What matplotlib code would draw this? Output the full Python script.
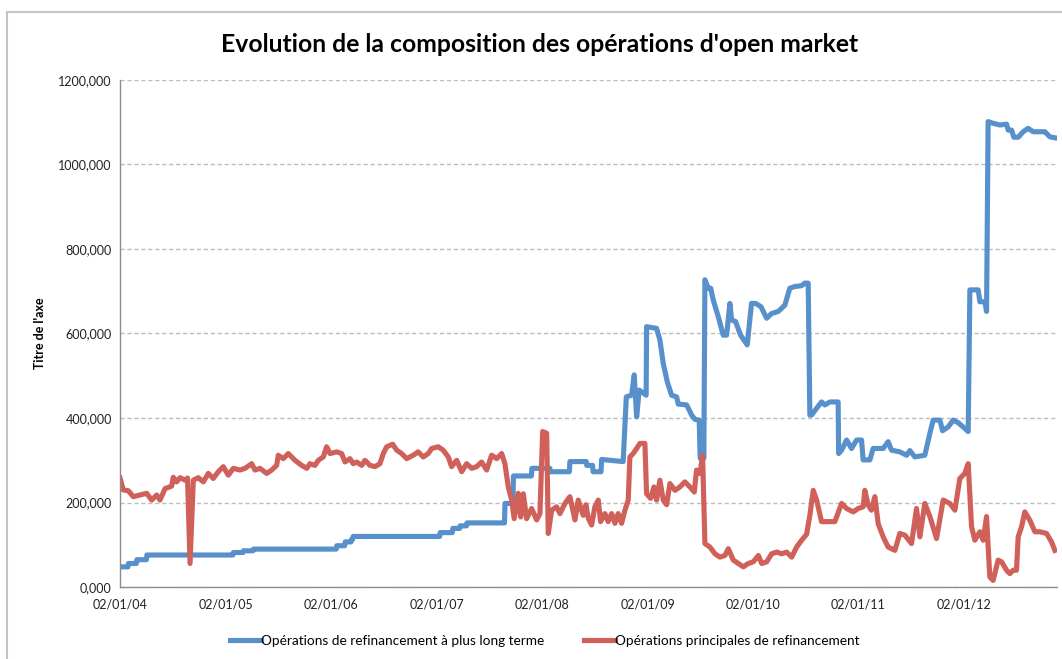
import numpy as np
import pandas as pd
import matplotlib
matplotlib.use("Agg")
import matplotlib.pyplot as plt
import matplotlib.dates as mdates
from matplotlib.patches import Rectangle
from matplotlib.ticker import FuncFormatter

plt.rcParams["font.family"] = ["Lato", "DejaVu Sans"]

# data (time as decimal year, values in Mds EUR)
ltro_t = [2004.000, 2004.075, 2004.080, 2004.155, 2004.160, 2004.250, 2004.255, 2005.070, 2005.075,
          2005.165, 2005.170, 2005.260, 2005.265, 2006.050, 2006.055, 2006.130, 2006.135, 2006.190,
          2006.195, 2006.205, 2006.210, 2007.030, 2007.035, 2007.150, 2007.155, 2007.220, 2007.225,
          2007.285, 2007.290, 2007.645, 2007.650, 2007.725, 2007.730, 2007.900, 2007.905, 2008.075,
          2008.080, 2008.260, 2008.265, 2008.420, 2008.425, 2008.480, 2008.485, 2008.560, 2008.566,
          2008.770, 2008.800, 2008.850, 2008.875, 2008.898, 2008.922, 2008.988, 2008.992, 2009.087,
          2009.118, 2009.150, 2009.188, 2009.229, 2009.277, 2009.292, 2009.372, 2009.419, 2009.450,
          2009.491, 2009.500, 2009.535, 2009.545, 2009.576, 2009.600, 2009.624, 2009.671, 2009.719,
          2009.751, 2009.782, 2009.798, 2009.836, 2009.883, 2009.946, 2009.987, 2010.000, 2010.028,
          2010.077, 2010.130, 2010.177, 2010.240, 2010.287, 2010.303, 2010.350, 2010.398, 2010.461,
          2010.493, 2010.524, 2010.540, 2010.556, 2010.604, 2010.651, 2010.682, 2010.730, 2010.808,
          2010.813, 2010.841, 2010.888, 2010.935, 2010.983, 2011.030, 2011.045, 2011.109, 2011.140,
          2011.235, 2011.282, 2011.314, 2011.393, 2011.457, 2011.488, 2011.536, 2011.630, 2011.678,
          2011.709, 2011.773, 2011.798, 2011.851, 2011.899, 2011.946, 2011.993, 2012.041, 2012.057,
          2012.136, 2012.152, 2012.199, 2012.215, 2012.230, 2012.277, 2012.341, 2012.405, 2012.420,
          2012.452, 2012.474, 2012.515, 2012.562, 2012.609, 2012.657, 2012.768, 2012.815, 2012.879]
ltro_v = [48, 48, 56, 56, 65, 65, 76, 76, 82,
          82, 86, 86, 90, 90, 98, 98, 107, 107,
          113, 113, 120, 120, 129, 129, 139, 139, 145,
          145, 152, 152, 198, 198, 263, 263, 281, 281,
          273, 273, 297, 297, 288, 288, 273, 273, 302,
          297, 450, 454, 502, 403, 466, 454, 616, 612,
          585, 529, 486, 454, 450, 433, 431, 407, 397,
          395, 305, 305, 727, 707, 707, 679, 640, 596,
          596, 671, 632, 628, 596, 573, 671, 671, 671,
          663, 636, 647, 652, 663, 667, 707, 711, 713,
          719, 719, 407, 407, 423, 438, 431, 438, 438,
          316, 324, 348, 328, 348, 348, 301, 301, 328,
          328, 344, 324, 320, 312, 323, 308, 312, 364,
          395, 395, 370, 379, 395, 389, 379, 368, 703,
          703, 675, 675, 652, 1101, 1097, 1093, 1095, 1081,
          1081, 1064, 1064, 1077, 1085, 1077, 1077, 1065, 1062]

mro_t = [2004.000, 2004.031, 2004.079, 2004.126, 2004.190, 2004.253, 2004.300, 2004.348, 2004.379,
         2004.427, 2004.490, 2004.505, 2004.537, 2004.569, 2004.616, 2004.640, 2004.664, 2004.695,
         2004.742, 2004.790, 2004.837, 2004.884, 2004.932, 2004.979, 2005.027, 2005.074, 2005.137,
         2005.185, 2005.248, 2005.280, 2005.327, 2005.391, 2005.438, 2005.485, 2005.500, 2005.548,
         2005.595, 2005.659, 2005.722, 2005.770, 2005.801, 2005.848, 2005.880, 2005.927, 2005.959,
         2005.991, 2006.054, 2006.101, 2006.133, 2006.180, 2006.211, 2006.244, 2006.291, 2006.322,
         2006.370, 2006.417, 2006.464, 2006.496, 2006.528, 2006.585, 2006.623, 2006.670, 2006.718,
         2006.780, 2006.827, 2006.875, 2006.922, 2006.955, 2007.017, 2007.064, 2007.112, 2007.144,
         2007.192, 2007.239, 2007.286, 2007.334, 2007.381, 2007.428, 2007.476, 2007.523, 2007.571,
         2007.618, 2007.649, 2007.681, 2007.713, 2007.737, 2007.775, 2007.798, 2007.823, 2007.855,
         2007.902, 2007.950, 2007.981, 2008.007, 2008.045, 2008.060, 2008.092, 2008.139, 2008.171,
         2008.218, 2008.265, 2008.313, 2008.344, 2008.391, 2008.417, 2008.439, 2008.471, 2008.502,
         2008.534, 2008.556, 2008.597, 2008.628, 2008.661, 2008.692, 2008.723, 2008.755, 2008.787,
         2008.818, 2008.834, 2008.865, 2008.898, 2008.929, 2008.976, 2008.992, 2009.030, 2009.062,
         2009.087, 2009.118, 2009.150, 2009.182, 2009.213, 2009.261, 2009.308, 2009.355, 2009.403,
         2009.444, 2009.466, 2009.498, 2009.523, 2009.545, 2009.592, 2009.640, 2009.687, 2009.735,
         2009.767, 2009.814, 2009.862, 2009.909, 2009.956, 2010.004, 2010.052, 2010.083, 2010.131,
         2010.178, 2010.226, 2010.273, 2010.320, 2010.368, 2010.415, 2010.462, 2010.509, 2010.540,
         2010.572, 2010.604, 2010.651, 2010.714, 2010.777, 2010.841, 2010.888, 2010.951, 2010.998,
         2011.045, 2011.061, 2011.093, 2011.124, 2011.156, 2011.188, 2011.235, 2011.282, 2011.346,
         2011.393, 2011.441, 2011.504, 2011.551, 2011.583, 2011.630, 2011.678, 2011.741, 2011.804,
         2011.867, 2011.915, 2011.962, 2012.009, 2012.041, 2012.073, 2012.104, 2012.152, 2012.183,
         2012.215, 2012.246, 2012.277, 2012.325, 2012.357, 2012.405, 2012.436, 2012.467, 2012.499,
         2012.515, 2012.547, 2012.578, 2012.626, 2012.673, 2012.720, 2012.784, 2012.831, 2012.863]
mro_v = [258, 230, 228, 214, 218, 222, 206, 218, 206,
         233, 239, 260, 249, 259, 253, 258, 56, 253,
         259, 249, 269, 257, 273, 285, 265, 281, 277,
         281, 292, 277, 281, 269, 277, 288, 312, 304,
         316, 300, 288, 281, 292, 288, 300, 308, 332,
         316, 320, 316, 296, 304, 292, 296, 288, 300,
         288, 285, 292, 316, 332, 338, 324, 316, 304,
         312, 320, 308, 316, 328, 332, 324, 308, 285,
         300, 273, 292, 281, 285, 296, 277, 312, 304,
         316, 292, 237, 206, 162, 222, 166, 221, 162,
         186, 159, 174, 368, 364, 127, 182, 190, 174,
         198, 214, 159, 206, 170, 195, 163, 147, 190,
         206, 155, 174, 155, 174, 151, 174, 151, 182,
         206, 308, 316, 328, 340, 340, 221, 210, 237,
         206, 253, 206, 195, 245, 229, 237, 249, 237,
         225, 277, 269, 312, 103, 95, 79, 71, 75,
         91, 64, 56, 48, 56, 60, 75, 56, 60,
         79, 83, 79, 83, 71, 95, 111, 125, 170,
         229, 206, 155, 155, 155, 198, 186, 178, 186,
         190, 229, 194, 182, 214, 150, 119, 95, 87,
         127, 123, 103, 186, 119, 198, 167, 115, 206,
         198, 182, 257, 269, 292, 143, 111, 131, 111,
         167, 24, 16, 64, 60, 40, 32, 40, 40,
         119, 143, 178, 158, 131, 131, 127, 107, 87]

ltro_label = "Opérations de refinancement à plus long terme"
mro_label = "Opérations principales de refinancement"
title = "Evolution de la composition des opérations d'open market"
years = list(range(2004, 2013))

origin = pd.Timestamp("2004-01-02")


def to_dates(t):
    return origin + pd.to_timedelta((np.array(t) - 2004.0) * 365.25, unit="D")


fig = plt.figure(figsize=(10.62, 6.59), dpi=100)
ax = fig.add_axes([0.113, 0.109, 0.882, 0.770])

blue = "#5890CC"
red = "#D0605A"
ax.plot(to_dates(ltro_t), ltro_v, color=blue, lw=3.7, solid_joinstyle="round", label=ltro_label)
ax.plot(to_dates(mro_t), mro_v, color=red, lw=3.7, solid_joinstyle="round", label=mro_label)

ax.set_ylim(0, 1200)
ax.set_yticks(np.arange(0, 1201, 200))
ax.yaxis.set_major_formatter(FuncFormatter(lambda v, p: f"{v:.3f}".replace(".", ",")))
ax.set_xlim(origin, to_dates([2012.88])[0])
ax.set_xticks([pd.Timestamp(f"{y}-01-02") for y in years])
ax.xaxis.set_major_formatter(mdates.DateFormatter("%d/%m/%y"))

ax.grid(axis="y", color="#BDBDBD", ls=(0, (3, 2)), lw=1)
ax.set_axisbelow(True)
for s in ["top", "right"]:
    ax.spines[s].set_visible(False)
for s in ["left", "bottom"]:
    ax.spines[s].set_color("#8C8C8C")
    ax.spines[s].set_linewidth(1)
ax.tick_params(length=0, labelsize=9, colors="#222222", pad=6)
ax.tick_params(axis="x", pad=8)

fig.text(0.508, 0.932, title, ha="center", va="center", fontsize=17.8, fontweight="bold")
fig.text(0.038, 0.495, "Titre de l'axe", rotation=90, ha="center", va="center",
         fontsize=9, fontweight="bold")

fig.legend(loc="center", bbox_to_anchor=(0.513, 0.027), ncol=2, frameon=False, fontsize=9.8,
           handlelength=2.3, handletextpad=0.0, columnspacing=2.9)

fig.patches.append(Rectangle((7 / 1062, -0.2), 2, 1.2 - 12 / 659, transform=fig.transFigure,
                             fill=False, edgecolor="#C4C4C4", lw=1.5))

fig.savefig("out.png", dpi=100)
